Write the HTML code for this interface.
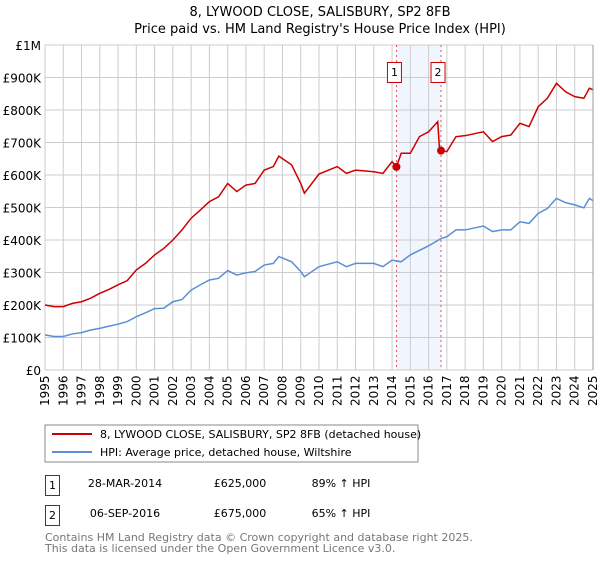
<!DOCTYPE html>
<html><head><meta charset="utf-8"><style>
body{margin:0;background:#fff;font-family:"DejaVu Sans","Liberation Sans",sans-serif;}
svg text{font-family:"DejaVu Sans","Liberation Sans",sans-serif;}
</style></head><body>
<svg id="chart" width="600" height="560">
<text x="320" y="16" text-anchor="middle" font-size="13">8, LYWOOD CLOSE, SALISBURY, SP2 8FB</text>
<text x="320" y="33" text-anchor="middle" font-size="13">Price paid vs. HM Land Registry's House Price Index (HPI)</text>
<g id="grid"></g><g id="series"></g><g id="axes"></g>
<rect x="45" y="425" width="373" height="37" fill="#fff" stroke="#888"/>
<line x1="52" y1="434" x2="92" y2="434" stroke="#cc0000" stroke-width="2"/>
<text x="100" y="438" font-size="11">8, LYWOOD CLOSE, SALISBURY, SP2 8FB (detached house)</text>
<line x1="52" y1="452" x2="92" y2="452" stroke="#5b8fd4" stroke-width="2"/>
<text x="100" y="456" font-size="11">HPI: Average price, detached house, Wiltshire</text>
<rect x="45.5" y="475.5" width="14" height="20" fill="#fff" stroke="#cc0000"/>
<text x="52.5" y="489" font-size="11" text-anchor="middle">1</text>
<text x="125" y="487" font-size="11" text-anchor="middle">28-MAR-2014</text>
<text x="240" y="487" font-size="11" text-anchor="middle">£625,000</text>
<text x="341" y="487" font-size="11" text-anchor="middle">89% ↑ HPI</text>
<rect x="45.5" y="505.5" width="14" height="20" fill="#fff" stroke="#cc0000"/>
<text x="52.5" y="519" font-size="11" text-anchor="middle">2</text>
<text x="125" y="517" font-size="11" text-anchor="middle">06-SEP-2016</text>
<text x="240" y="517" font-size="11" text-anchor="middle">£675,000</text>
<text x="341" y="517" font-size="11" text-anchor="middle">65% ↑ HPI</text>
<text x="45" y="541" font-size="11" fill="#777">Contains HM Land Registry data © Crown copyright and database right 2025.</text>
<text x="45" y="552" font-size="11" fill="#777">This data is licensed under the Open Government Licence v3.0.</text>
</svg>
<script>
const yTicks=[0,100,200,300,400,500,600,700,800,900,1000];
const yTickLabels=["£0","£100K","£200K","£300K","£400K","£500K","£600K","£700K","£800K","£900K","£1M"];
const xYears=[1995,1996,1997,1998,1999,2000,2001,2002,2003,2004,2005,2006,2007,2008,2009,2010,2011,2012,2013,2014,2015,2016,2017,2018,2019,2020,2021,2022,2023,2024,2025];
const hpiDates=[1995,1995.5,1996,1996.5,1997,1997.5,1998,1998.5,1999,1999.5,2000,2000.5,2001,2001.5,2002,2002.5,2003,2003.5,2004,2004.5,2005,2005.5,2006,2006.5,2007,2007.5,2007.8,2008.5,2009,2009.2,2010,2011,2011.5,2012,2013,2013.5,2014,2014.5,2015,2016,2016.7,2017,2017.5,2018,2019,2019.5,2020,2020.5,2021,2021.5,2022,2022.5,2023,2023.5,2024,2024.5,2024.8,2025];
const hpiValues=[108,103,103,111,115,123,128,135,141,149,164,176,189,190,210,217,246,262,277,282,306,292,299,303,323,328,349,333,303,287,318,333,318,328,328,318,338,333,354,382,405,410,431,431,443,426,431,431,456,451,482,497,528,515,508,499,528,521];
const propDates=[1995,1995.5,1996,1996.5,1997,1997.5,1998,1998.5,1999,1999.5,2000,2000.5,2001,2001.5,2002,2002.5,2003,2003.5,2004,2004.5,2005,2005.5,2006,2006.5,2007,2007.5,2007.8,2008.5,2009,2009.2,2010,2011,2011.5,2012,2013,2013.5,2014,2014.24,2014.5,2015,2015.5,2016,2016.5,2016.6,2016.68,2017,2017.5,2018,2019,2019.5,2020,2020.5,2021,2021.5,2022,2022.5,2023,2023.5,2024,2024.5,2024.8,2025];
const propValues=[200,195,195,205,210,221,236,248,262,275,308,328,354,374,400,431,467,492,518,533,574,549,569,574,615,626,658,631,574,544,603,626,605,615,610,605,641,625,667,667,718,733,764,677,675,672,718,721,733,703,718,723,759,749,810,836,882,856,841,836,867,862];
const saleDates=[2014.24,2016.68];
const saleValues=[625,675];
const saleLabels=["1","2"];

const NS="http://www.w3.org/2000/svg";
const X0=45,X1=593,Y0=370,Y1=45;
const xs=t=>X0+(t-1995)/30*(X1-X0);
const ys=v=>Y0-v/1000*(Y0-Y1);
function mk(tag,attrs,parent){const e=document.createElementNS(NS,tag);for(const k in attrs)e.setAttribute(k,attrs[k]);parent.appendChild(e);return e;}
const grid=document.getElementById('grid'),series=document.getElementById('series'),axes=document.getElementById('axes');
const band=mk('rect',{x:xs(saleDates[0]),y:Y1,width:xs(saleDates[1])-xs(saleDates[0]),height:Y0-Y1,fill:'#eef3fd',opacity:0.8},grid);


yTicks.forEach((v,i)=>{
 const l=mk('line',{x1:X0,x2:X1,y1:ys(v),y2:ys(v),stroke:'#ccc'},grid);
 
 
 const t=mk('text',{x:X0-4,y:ys(v)+5,'text-anchor':'end','font-size':12},axes);
 t.textContent=yTickLabels[i];
 
 
});
xYears.forEach(y=>{
 const l=mk('line',{x1:xs(y),x2:xs(y),y1:Y1,y2:Y0,stroke:'#ccc'},grid);
 
 
 const t=mk('text',{x:0,y:0,'font-size':12,transform:`translate(${xs(y)+4},${Y0+36}) rotate(-90)`},axes);
 t.textContent=y;
 
 
});
const badgeOffsets=[-9,-10];
saleDates.forEach((d,i)=>{
 const l=mk('line',{x1:xs(d),x2:xs(d),y1:Y1,y2:Y0,stroke:'#e05555','stroke-dasharray':'2,3'},grid);
 
 
 const bx=xs(d)+badgeOffsets[i];
 const r=mk('rect',{x:bx,y:62.5,width:14,height:20,fill:'#fff',stroke:'#cc0000'},axes);
 
 
 const t=mk('text',{x:bx+7,y:76,'font-size':11,'text-anchor':'middle'},axes);
 t.textContent=saleLabels[i];
 
 
});
const hp=mk('polyline',{points:hpiDates.map((d,i)=>xs(d)+','+ys(hpiValues[i])).join(' '),fill:'none',stroke:'#5b8fd4','stroke-width':1.5},series);


const pp=mk('polyline',{points:propDates.map((d,i)=>xs(d)+','+ys(propValues[i])).join(' '),fill:'none',stroke:'#cc0000','stroke-width':1.5},series);


saleDates.forEach((d,i)=>{
 const c=mk('circle',{cx:xs(d),cy:ys(saleValues[i]),r:4,fill:'#cc0000'},series);
 
 
});
const rl=mk('line',{x1:X1,x2:X1,y1:Y1,y2:Y0,stroke:'#999'},axes);


</script>
</body></html>
